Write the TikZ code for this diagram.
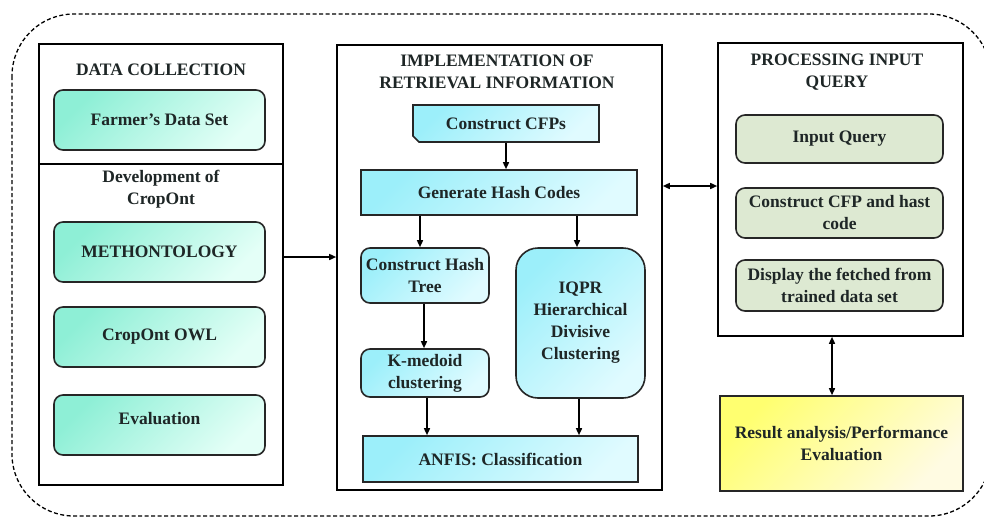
\documentclass[tikz,border=0pt]{standalone}
\usepackage{fontspec}
\setmainfont{Liberation Serif}
\usetikzlibrary{arrows.meta,shapes.misc}
\definecolor{tealA}{HTML}{8EEFD6}
\definecolor{tealB}{HTML}{E4FFF7}
\definecolor{cyanA}{HTML}{9CEFFA}
\definecolor{cyanB}{HTML}{E0FBFF}
\definecolor{greenbox}{HTML}{DDE9D2}
\definecolor{yelA}{HTML}{FFFF70}
\definecolor{yelB}{HTML}{FFFBE2}
\definecolor{txt}{HTML}{1E2626}
\tikzset{
  lbl/.style={font=\fontsize{17.5}{22}\selectfont\bfseries, text=txt, align=center, inner sep=0pt},
  panel/.style={draw=black, line width=1.6pt, fill=white},
  bx/.style={lbl, draw=black!85, line width=1.6pt},
  tealbox/.style={bx, rounded corners=9pt, shading=axis, top color=tealA, bottom color=tealB, shading angle=45},
  cyanbox/.style={bx, shading=axis, top color=cyanA, bottom color=cyanB, shading angle=45},
  greenbx/.style={bx, rounded corners=9pt, fill=greenbox},
  yelbox/.style={bx, shading=axis, top color=yelA, bottom color=yelB, shading angle=45},
  arr/.style={line width=1.5pt, -{Triangle[length=7pt,width=6pt]}},
  darr/.style={line width=1.5pt, {Triangle[length=7pt,width=6pt]}-{Triangle[length=7pt,width=6pt]}},
}
\begin{document}
\begin{tikzpicture}[x=1pt,y=-1pt]
\useasboundingbox (0,0) rectangle (984,517);
\fill[white] (0,0) rectangle (984,517);
% outer dashed frame
\draw[line width=1.3pt, dash pattern=on 4pt off 2.5pt, rounded corners=62pt] (12,14) rectangle (991,516);

% left panel
\node[panel, minimum width=244pt, minimum height=441pt] (left) at (161,264.5) {};
\draw[line width=1.6pt] (left.west |- 0,164) -- (left.east |- 0,164);
\node[lbl] (t1) at (161,70) {DATA COLLECTION};
\node[tealbox, minimum width=211pt, minimum height=60pt] (farmer) at (159.5,120) {Farmer’s Data Set};
\node[lbl] (t2) at (161,189) {Development of\\CropOnt};
\node[tealbox, minimum width=211pt, minimum height=60pt] (meth) at (159.5,252) {METHONTOLOGY};
\node[tealbox, minimum width=211pt, minimum height=60pt, text depth=14pt] (eval) at (159.5,425) {Evaluation};
\node[tealbox, minimum width=211pt, minimum height=60pt] (owl) at (159.5,337) {CropOnt OWL};

% middle panel
\node[panel, minimum width=325pt, minimum height=445pt] (mid) at (499.5,267.5) {};
\node[lbl] (t3) at (497,72) {IMPLEMENTATION OF\\RETRIEVAL INFORMATION};
\node[cyanbox, chamfered rectangle, chamfered rectangle corners=south west, chamfered rectangle xsep=8pt, chamfered rectangle ysep=0pt, minimum width=186pt, minimum height=37pt, inner sep=0pt] (cfp) at (506,123.5) {Construct CFPs};
\node[cyanbox, minimum width=276pt, minimum height=45pt] (ghc) at (499,192.5) {Generate Hash Codes};
\node[cyanbox, rounded corners=9pt, minimum width=128pt, minimum height=55pt] (cht) at (425,275.5) {Construct Hash\\Tree};
\node[cyanbox, rounded corners=9pt, minimum width=128pt, minimum height=48pt] (kmed) at (425,373) {K-medoid\\clustering};
\node[cyanbox, rounded corners=22pt, minimum width=129pt, minimum height=150pt] (iqpr) at (580.5,323) {IQPR\\Hierarchical\\Divisive\\Clustering};
\node[cyanbox, minimum width=275pt, minimum height=46pt] (anfis) at (500.5,459) {ANFIS: Classification};

% right panel
\node[panel, minimum width=245pt, minimum height=293pt] (right) at (840.5,189.5) {};
\node[lbl] (t4) at (837,72) {PROCESSING INPUT\\QUERY};
\node[greenbx, minimum width=207pt, minimum height=48pt] (iq) at (839.5,139) {Input Query};
\node[greenbx, minimum width=207pt, minimum height=50pt] (ccfp) at (839.5,213) {Construct CFP and hast\\code};
\node[greenbx, minimum width=207pt, minimum height=51pt] (disp) at (839.5,285.5) {Display the fetched from\\trained data set};
\node[yelbox, minimum width=243pt, minimum height=95pt] (res) at (841.5,443.5) {Result analysis/Performance\\Evaluation};

% connectors
\draw[arr] (left.east |- 0,257) -- (mid.west |- 0,257);
\draw[arr] (cfp.south) -- (ghc.north -| cfp.south);
\draw[arr] (ghc.south -| 420,0) -- (cht.north -| 420,0);
\draw[arr] (ghc.south -| 577,0) -- (iqpr.north -| 577,0);
\draw[arr] (cht.south -| 424,0) -- (kmed.north -| 424,0);
\draw[arr] (kmed.south -| 427,0) -- (anfis.north -| 427,0);
\draw[arr] (iqpr.south -| 579,0) -- (anfis.north -| 579,0);
\draw[darr] (mid.east |- 0,186) -- (right.west |- 0,186);
\draw[darr] (right.south -| 832,0) -- (res.north -| 832,0);
\end{tikzpicture}
\end{document}
